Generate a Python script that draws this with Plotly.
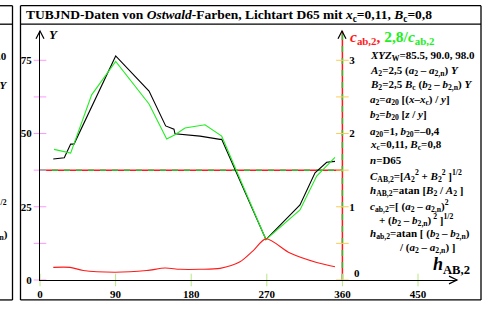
import plotly.graph_objects as go

# ---------------- data ----------------
h_black = [15.8, 28.9, 36.5, 40.5, 90.1, 129.8, 149.6, 159.5, 160.7, 190.5, 214.3, 216.3, 269.0, 309.5, 327.4, 341.3, 351.2]
Y_black = [41.3, 41.7, 46.4, 46.4, 76.5, 64.5, 52.6, 51.5, 49.9, 49.1, 48.0, 48.0, 13.8, 25.6, 36.6, 40.2, 40.5]

h_green = [16.7, 36.5, 61.5, 90.1, 129.8, 150.8, 160.7, 172.6, 196.4, 216.3, 269.0, 309.5, 329.4, 351.2]
Y_green = [44.6, 43.3, 63.2, 74.6, 60.1, 48.1, 49.6, 51.9, 53.0, 49.1, 13.8, 23.9, 35.5, 41.9]

h_red = [15.8, 35.7, 51.5, 89.3, 127.0, 148.8, 166.7, 190.5, 214.3, 238.1, 253.9, 269.0, 297.6, 329.4, 351.2]
c_red = [0.173, 0.173, 0.129, 0.106, 0.129, 0.163, 0.146, 0.146, 0.159, 0.248, 0.402, 0.562, 0.368, 0.239, 0.182]

x_ticks = [0, 90, 180, 270, 360, 450]
y_ticks = [0, 25, 50, 75]
y_minor = [0, 12.5, 25, 37.5, 50, 62.5, 75]
y2_ticks = [1, 2, 3]
y2_minor = [0, 0.5, 1, 1.5, 2, 2.5, 3]
ref_level = 37.5
ref_hue = 360

# ---------------- geometry ----------------
W, H = 489, 312
L, R, T, B = 40, 457, 31, 287
XR = [0, (R - L) / 0.84]
YR = [0, 85]

def xp(px):
    return (px - L) / (R - L)

def yp(py):
    return (B - py) / (B - T)

FONT = "Liberation Serif"
RED = "#ff1a1a"
GREEN = "#22ee22"

fig = go.Figure()

# reference lines (red with green dashes)
fig.add_trace(go.Scatter(x=[0, ref_hue], y=[ref_level, ref_level], mode="lines",
                         line=dict(color=RED, width=1.5), hoverinfo="skip", showlegend=False))
fig.add_trace(go.Scatter(x=[0, ref_hue], y=[ref_level, ref_level], mode="lines",
                         line=dict(color="#33bb33", width=1.5, dash="6px,6px"), hoverinfo="skip", showlegend=False))
fig.add_trace(go.Scatter(x=[ref_hue, ref_hue], y=[0, YR[1]], mode="lines", cliponaxis=False,
                         line=dict(color=RED, width=1.5), hoverinfo="skip", showlegend=False))
fig.add_trace(go.Scatter(x=[ref_hue, ref_hue], y=[0, YR[1]], mode="lines", cliponaxis=False,
                         line=dict(color="#33bb33", width=1.5, dash="6px,6px"), hoverinfo="skip", showlegend=False))

# data
fig.add_trace(go.Scatter(x=h_red, y=c_red, yaxis="y2", mode="lines",
                         line=dict(color=RED, width=1.1, shape="spline", smoothing=0.8), showlegend=False))
fig.add_trace(go.Scatter(x=h_black, y=Y_black, mode="lines",
                         line=dict(color="black", width=1.1), showlegend=False))
fig.add_trace(go.Scatter(x=h_green, y=Y_green, mode="lines",
                         line=dict(color=GREEN, width=1.1), showlegend=False))

# tick marks (crossing the axes)
fig.add_trace(go.Scatter(x=x_ticks, y=[0] * len(x_ticks), mode="markers", cliponaxis=False,
                         marker=dict(symbol="line-ns-open", size=9, line=dict(color="black", width=1)),
                         hoverinfo="skip", showlegend=False))
fig.add_trace(go.Scatter(x=[0] * len(y_minor), y=y_minor, mode="markers", cliponaxis=False,
                         marker=dict(symbol="line-ew-open", size=9, line=dict(color="black", width=1)),
                         hoverinfo="skip", showlegend=False))
fig.add_trace(go.Scatter(x=[ref_hue] * len(y2_minor), y=y2_minor, yaxis="y2", mode="markers", cliponaxis=False,
                         marker=dict(symbol="line-ew-open", size=9, line=dict(color="black", width=1)),
                         hoverinfo="skip", showlegend=False))

shapes = []
def seg(x0, y0, x1, y1, w=1.3):
    shapes.append(dict(type="line", xref="paper", yref="paper", x0=xp(x0), y0=yp(y0), x1=xp(x1), y1=yp(y1),
                       line=dict(color="black", width=w)))

# frames
seg(-5, 5, 12.5, 5); seg(12.5, 5, 12.5, 307.5); seg(-5, 24, 12.5, 24); seg(-5, 307.5, 12.5, 307.5)
seg(20.5, 5, 481, 5); seg(20.5, 5, 20.5, 307.5); seg(481, 5, 481, 307.5)
seg(20.5, 307.5, 481, 307.5); seg(20.5, 24, 481, 24)
# arrowheads
def path(pts):
    d = "M " + " L ".join(f"{xp(a)},{yp(b)}" for a, b in pts)
    shapes.append(dict(type="path", xref="paper", yref="paper", path=d, line=dict(color="black", width=1.2)))
path([(449, 283), (457, 287), (449, 291)])
path([(36, 39), (40, 31), (44, 39)])
path([(338, 39), (342, 31), (346, 39)])

ann = []
def text(px, py, s, size=11, color="black", xanchor="left", yanchor="middle"):
    ann.append(dict(xref="paper", yref="paper", x=xp(px), y=yp(py), text=s, showarrow=False,
                    xanchor=xanchor, yanchor=yanchor, font=dict(family=FONT, size=size, color=color)))

text(24, 15, "<b>TUBJND-Daten von <i>Ostwald</i>-Farben, Lichtart D65 mit <i>x</i><sub>c</sub>=0,11, <i>B</i><sub>c</sub>=0,8</b>", size=13.5)
text(47, 35, "<b><i>Y</i></b>", size=13)
text(348, 38, "<b><span style='color:%s'><i>c</i><sub>ab,2</sub>, </span><span style='color:%s'>2,8/<i>c</i><sub>ab,2</sub></span></b>" % (RED, GREEN), size=15.5)
text(431, 272, "<b><i>h</i><sub>AB,2</sub></b>", size=18)
text(352, 280, "<b>0</b>", size=11)

lines = [
    (368, 57, "<i>XYZ</i><sub>W</sub>=85.5, 90.0, 98.0"),
    (368, 72, "<i>A</i><sub>2</sub>=2,5 (<i>a</i><sub>2</sub> – <i>a</i><sub>2,n</sub>) <i>Y</i>"),
    (368, 87, "<i>B</i><sub>2</sub>=2,5 <i>B</i><sub>c</sub> (<i>b</i><sub>2</sub> – <i>b</i><sub>2,n</sub>) <i>Y</i>"),
    (368, 102, "<i>a</i><sub>2</sub>=<i>a</i><sub>20</sub> [(<i>x</i>–<i>x</i><sub>c</sub>) / <i>y</i>]"),
    (368, 117, "<i>b</i><sub>2</sub>=<i>b</i><sub>20</sub> [<i>z</i> / <i>y</i>]"),
    (368, 135, "<i>a</i><sub>20</sub>=1, <i>b</i><sub>20</sub>=–0,4"),
    (368, 148, "<i>x</i><sub>c</sub>=0,11, <i>B</i><sub>c</sub>=0,8"),
    (368, 164, "<i>n</i>=D65"),
    (368, 180, "<i>C</i><sub>AB,2</sub>=[<i>A</i><sub>2</sub><sup>2</sup> + <i>B</i><sub>2</sub><sup>2</sup> ]<sup>1/2</sup>"),
    (368, 195, "<i>h</i><sub>AB,2</sub>=atan [<i>B</i><sub>2</sub> / <i>A</i><sub>2</sub> ]"),
    (368, 211, "<i>c</i><sub>ab,2</sub>=[ (<i>a</i><sub>2</sub> – <i>a</i><sub>2,n</sub>)<sup>2</sup>"),
    (377, 225, "+ (<i>b</i><sub>2</sub> – <i>b</i><sub>2,n</sub>)<sup> 2</sup> ]<sup>1/2</sup>"),
    (368, 240, "<i>h</i><sub>ab,2</sub>=atan [ (<i>b</i><sub>2</sub> – <i>b</i><sub>2,n</sub>)"),
    (397, 254, "/ (<i>a</i><sub>2</sub> – <i>a</i><sub>2,n</sub>) ]"),
]
for x0, y0, s in lines:
    text(x0, y0, "<b>" + s + "</b>", size=11)

# fragments of neighbouring panel on the left
text(9, 57, "<b>98.0</b>", size=11, xanchor="right")
text(9, 87, "<b>) <i>Y</i></b>", size=11, xanchor="right")
text(9, 210, "<b>]<sup>1/2</sup></b>", size=11, xanchor="right")
text(10, 241, "<b>– <i>b</i><sub>2,n</sub>)</b>", size=11, xanchor="right")

fig.update_layout(
    width=W, height=H,
    margin=dict(l=L, r=W - R, t=T, b=H - B, pad=0),
    paper_bgcolor="white", plot_bgcolor="white",
    showlegend=False,
    shapes=shapes, annotations=ann,
    font=dict(family=FONT, size=11, color="black"),
    xaxis=dict(range=XR, showgrid=False, zeroline=False, showline=True, linecolor="black", linewidth=1.2,
               tickvals=x_ticks, ticktext=[f"<b>{v}</b>" for v in x_ticks], ticks="outside", ticklen=4,
               tickcolor="rgba(0,0,0,0)", tickfont=dict(family=FONT, size=11)),
    yaxis=dict(range=YR, showgrid=False, zeroline=False, showline=True, linecolor="black", linewidth=1.2,
               tickvals=y_ticks, ticktext=[f"<b>{v}</b>" for v in y_ticks], ticks="outside", ticklen=5,
               tickcolor="rgba(0,0,0,0)", tickfont=dict(family=FONT, size=11)),
    yaxis2=dict(range=[YR[0] / 25, YR[1] / 25], overlaying="y", anchor="free", position=xp(342), side="right",
                showgrid=False, zeroline=False, showline=False,
                tickvals=y2_ticks, ticktext=[f"<b>{v}</b>" for v in y2_ticks], ticks="outside", ticklen=4,
                tickcolor="rgba(0,0,0,0)", tickfont=dict(family=FONT, size=11)),
)

fig.write_html("out.html", config={"displayModeBar": False},
               post_script="document.body.style.margin='0';document.body.style.overflow='hidden';")
